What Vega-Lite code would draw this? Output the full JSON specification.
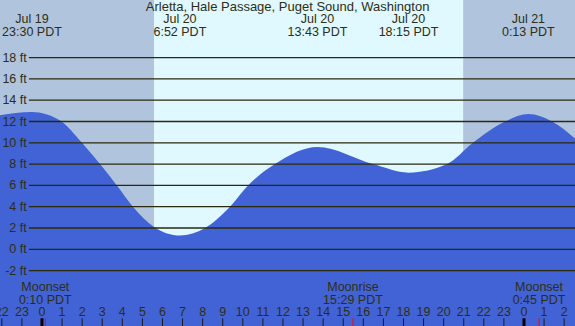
{
  "$schema": "https://vega.github.io/schema/vega-lite/v6.json",
  "width": 575,
  "height": 326,
  "autosize": {"type": "fit", "contains": "padding"},
  "padding": 0,
  "config": {"view": {"stroke": null}, "text": {"font": "Liberation Sans", "fontSize": 12.5, "color": "#2e2e14"}},
  "datasets": {
    "sun": [
      {"s": -3, "e": 5.58, "p": "night"},
      {"s": 5.58, "e": 20.97, "p": "day"},
      {"s": 20.97, "e": 28, "p": "night"}
    ],
    "tide": [
      {"h": -2.09, "ft": 12.6},
      {"h": -0.5, "ft": 12.9},
      {"h": 0.9, "ft": 12.1},
      {"h": 1.99, "ft": 10.0},
      {"h": 2.89, "ft": 8.0},
      {"h": 3.73, "ft": 6.0},
      {"h": 4.53, "ft": 4.0},
      {"h": 5.58, "ft": 2.1},
      {"h": 6.87, "ft": 1.3},
      {"h": 8.12, "ft": 2.0},
      {"h": 9.36, "ft": 4.0},
      {"h": 10.26, "ft": 6.0},
      {"h": 11.6, "ft": 8.0},
      {"h": 13.72, "ft": 9.6},
      {"h": 16.48, "ft": 8.0},
      {"h": 18.25, "ft": 7.2},
      {"h": 20.17, "ft": 8.0},
      {"h": 21.46, "ft": 10.0},
      {"h": 23.06, "ft": 12.0},
      {"h": 24.22, "ft": 12.7},
      {"h": 25.4, "ft": 12.0},
      {"h": 26.54, "ft": 10.4}
    ],
    "grid": [
      {"ft": -2, "lab": "-2 ft"}, {"ft": 0, "lab": "0 ft"}, {"ft": 2, "lab": "2 ft"},
      {"ft": 4, "lab": "4 ft"}, {"ft": 6, "lab": "6 ft"}, {"ft": 8, "lab": "8 ft"},
      {"ft": 10, "lab": "10 ft"}, {"ft": 12, "lab": "12 ft"}, {"ft": 14, "lab": "14 ft"},
      {"ft": 16, "lab": "16 ft"}, {"ft": 18, "lab": "18 ft"}
    ],
    "hours": [
      {"h": -2, "lab": "22"}, {"h": -1, "lab": "23"}, {"h": 0, "lab": "0"}, {"h": 1, "lab": "1"},
      {"h": 2, "lab": "2"}, {"h": 3, "lab": "3"}, {"h": 4, "lab": "4"}, {"h": 5, "lab": "5"},
      {"h": 6, "lab": "6"}, {"h": 7, "lab": "7"}, {"h": 8, "lab": "8"}, {"h": 9, "lab": "9"},
      {"h": 10, "lab": "10"}, {"h": 11, "lab": "11"}, {"h": 12, "lab": "12"}, {"h": 13, "lab": "13"},
      {"h": 14, "lab": "14"}, {"h": 15, "lab": "15"}, {"h": 16, "lab": "16"}, {"h": 17, "lab": "17"},
      {"h": 18, "lab": "18"}, {"h": 19, "lab": "19"}, {"h": 20, "lab": "20"}, {"h": 21, "lab": "21"},
      {"h": 22, "lab": "22"}, {"h": 23, "lab": "23"}, {"h": 24, "lab": "0"}, {"h": 25, "lab": "1"},
      {"h": 26, "lab": "2"}
    ],
    "moon": [
      {"h": 0.167, "ev": "Moonset", "t": "0:10 PDT"},
      {"h": 15.483, "ev": "Moonrise", "t": "15:29 PDT"},
      {"h": 24.75, "ev": "Moonset", "t": "0:45 PDT"}
    ],
    "events": [
      {"h": -0.5, "d": "Jul 19", "t": "23:30 PDT"},
      {"h": 6.867, "d": "Jul 20", "t": "6:52 PDT"},
      {"h": 13.717, "d": "Jul 20", "t": "13:43 PDT"},
      {"h": 18.25, "d": "Jul 20", "t": "18:15 PDT"},
      {"h": 24.217, "d": "Jul 21", "t": "0:13 PDT"}
    ],
    "title": [
      {"h": 12.23, "t": "Arletta, Hale Passage, Puget Sound, Washington"}
    ]
  },
  "layer": [
    {
      "data": {"name": "sun"},
      "mark": {"type": "rect", "clip": true},
      "encoding": {
        "x": {"field": "s", "type": "quantitative", "scale": {"domain": [-2.09, 26.54], "nice": false, "zero": false}, "axis": null},
        "x2": {"field": "e"},
        "color": {"field": "p", "type": "nominal", "scale": {"domain": ["night", "day"], "range": ["#b0c4de", "#e0f8ff"]}, "legend": null}
      }
    },
    {
      "data": {"name": "tide"},
      "mark": {"type": "area", "interpolate": "monotone", "color": "#4163d6", "clip": true},
      "encoding": {
        "x": {"field": "h", "type": "quantitative", "scale": {"domain": [-2.09, 26.54], "nice": false, "zero": false}, "axis": null},
        "y": {"field": "ft", "type": "quantitative", "scale": {"domain": [-7.2, 23.41], "nice": false, "zero": false}, "axis": null},
        "y2": {"datum": -8}
      }
    },
    {
      "data": {"name": "grid"},
      "mark": {"type": "rule", "color": "#2a2a0a", "strokeWidth": 1.3, "clip": true},
      "encoding": {
        "x": {"datum": -0.65, "type": "quantitative", "scale": {"domain": [-2.09, 26.54], "nice": false, "zero": false}, "axis": null},
        "x2": {"datum": 26.54},
        "y": {"field": "ft", "type": "quantitative", "scale": {"domain": [-7.2, 23.41], "nice": false, "zero": false}, "axis": null}
      }
    },
    {
      "data": {"name": "grid"},
      "mark": {"type": "text", "align": "right", "baseline": "middle", "clip": true},
      "encoding": {
        "x": {"datum": -0.76, "type": "quantitative", "scale": {"domain": [-2.09, 26.54], "nice": false, "zero": false}, "axis": null},
        "y": {"field": "ft", "type": "quantitative", "scale": {"domain": [-7.2, 23.41], "nice": false, "zero": false}, "axis": null},
        "text": {"field": "lab"}
      }
    },
    {
      "data": {"name": "hours"},
      "mark": {"type": "rule", "color": "#1a1a1a", "strokeWidth": 1, "clip": true},
      "encoding": {
        "x": {"field": "h", "type": "quantitative", "scale": {"domain": [-2.09, 26.54], "nice": false, "zero": false}, "axis": null},
        "y": {"datum": -6.48, "type": "quantitative", "scale": {"domain": [-7.2, 23.41], "nice": false, "zero": false}, "axis": null},
        "y2": {"datum": -7.2}
      }
    },
    {
      "data": {"name": "hours"},
      "transform": [{"filter": "datum.lab == '0'"}],
      "mark": {"type": "rule", "color": "#000000", "strokeWidth": 3, "clip": true},
      "encoding": {
        "x": {"field": "h", "type": "quantitative", "scale": {"domain": [-2.09, 26.54], "nice": false, "zero": false}, "axis": null},
        "y": {"datum": -6.48, "type": "quantitative", "scale": {"domain": [-7.2, 23.41], "nice": false, "zero": false}, "axis": null},
        "y2": {"datum": -7.2}
      }
    },
    {
      "data": {"name": "hours"},
      "mark": {"type": "text", "align": "center", "baseline": "middle", "clip": true},
      "encoding": {
        "x": {"field": "h", "type": "quantitative", "scale": {"domain": [-2.09, 26.54], "nice": false, "zero": false}, "axis": null},
        "y": {"datum": -5.86, "type": "quantitative", "scale": {"domain": [-7.2, 23.41], "nice": false, "zero": false}, "axis": null},
        "text": {"field": "lab"}
      }
    },
    {
      "data": {"name": "moon"},
      "mark": {"type": "rule", "color": "#ff0000", "strokeWidth": 1, "clip": true},
      "encoding": {
        "x": {"field": "h", "type": "quantitative", "scale": {"domain": [-2.09, 26.54], "nice": false, "zero": false}, "axis": null},
        "y": {"datum": -6.48, "type": "quantitative", "scale": {"domain": [-7.2, 23.41], "nice": false, "zero": false}, "axis": null},
        "y2": {"datum": -7.2}
      }
    },
    {
      "data": {"name": "moon"},
      "mark": {"type": "text", "align": "center", "baseline": "middle", "clip": true},
      "encoding": {
        "x": {"field": "h", "type": "quantitative", "scale": {"domain": [-2.09, 26.54], "nice": false, "zero": false}, "axis": null},
        "y": {"datum": -3.57, "type": "quantitative", "scale": {"domain": [-7.2, 23.41], "nice": false, "zero": false}, "axis": null},
        "text": {"field": "ev"}
      }
    },
    {
      "data": {"name": "moon"},
      "mark": {"type": "text", "align": "center", "baseline": "middle", "clip": true},
      "encoding": {
        "x": {"field": "h", "type": "quantitative", "scale": {"domain": [-2.09, 26.54], "nice": false, "zero": false}, "axis": null},
        "y": {"datum": -4.76, "type": "quantitative", "scale": {"domain": [-7.2, 23.41], "nice": false, "zero": false}, "axis": null},
        "text": {"field": "t"}
      }
    },
    {
      "data": {"name": "events"},
      "mark": {"type": "text", "align": "center", "baseline": "middle", "clip": true},
      "encoding": {
        "x": {"field": "h", "type": "quantitative", "scale": {"domain": [-2.09, 26.54], "nice": false, "zero": false}, "axis": null},
        "y": {"datum": 21.6, "type": "quantitative", "scale": {"domain": [-7.2, 23.41], "nice": false, "zero": false}, "axis": null},
        "text": {"field": "d"}
      }
    },
    {
      "data": {"name": "events"},
      "mark": {"type": "text", "align": "center", "baseline": "middle", "clip": true},
      "encoding": {
        "x": {"field": "h", "type": "quantitative", "scale": {"domain": [-2.09, 26.54], "nice": false, "zero": false}, "axis": null},
        "y": {"datum": 20.4, "type": "quantitative", "scale": {"domain": [-7.2, 23.41], "nice": false, "zero": false}, "axis": null},
        "text": {"field": "t"}
      }
    },
    {
      "data": {"name": "title"},
      "mark": {"type": "text", "align": "center", "baseline": "middle", "clip": true, "fontSize": 13},
      "encoding": {
        "x": {"field": "h", "type": "quantitative", "scale": {"domain": [-2.09, 26.54], "nice": false, "zero": false}, "axis": null},
        "y": {"datum": 22.72, "type": "quantitative", "scale": {"domain": [-7.2, 23.41], "nice": false, "zero": false}, "axis": null},
        "text": {"field": "t"}
      }
    }
  ]
}
